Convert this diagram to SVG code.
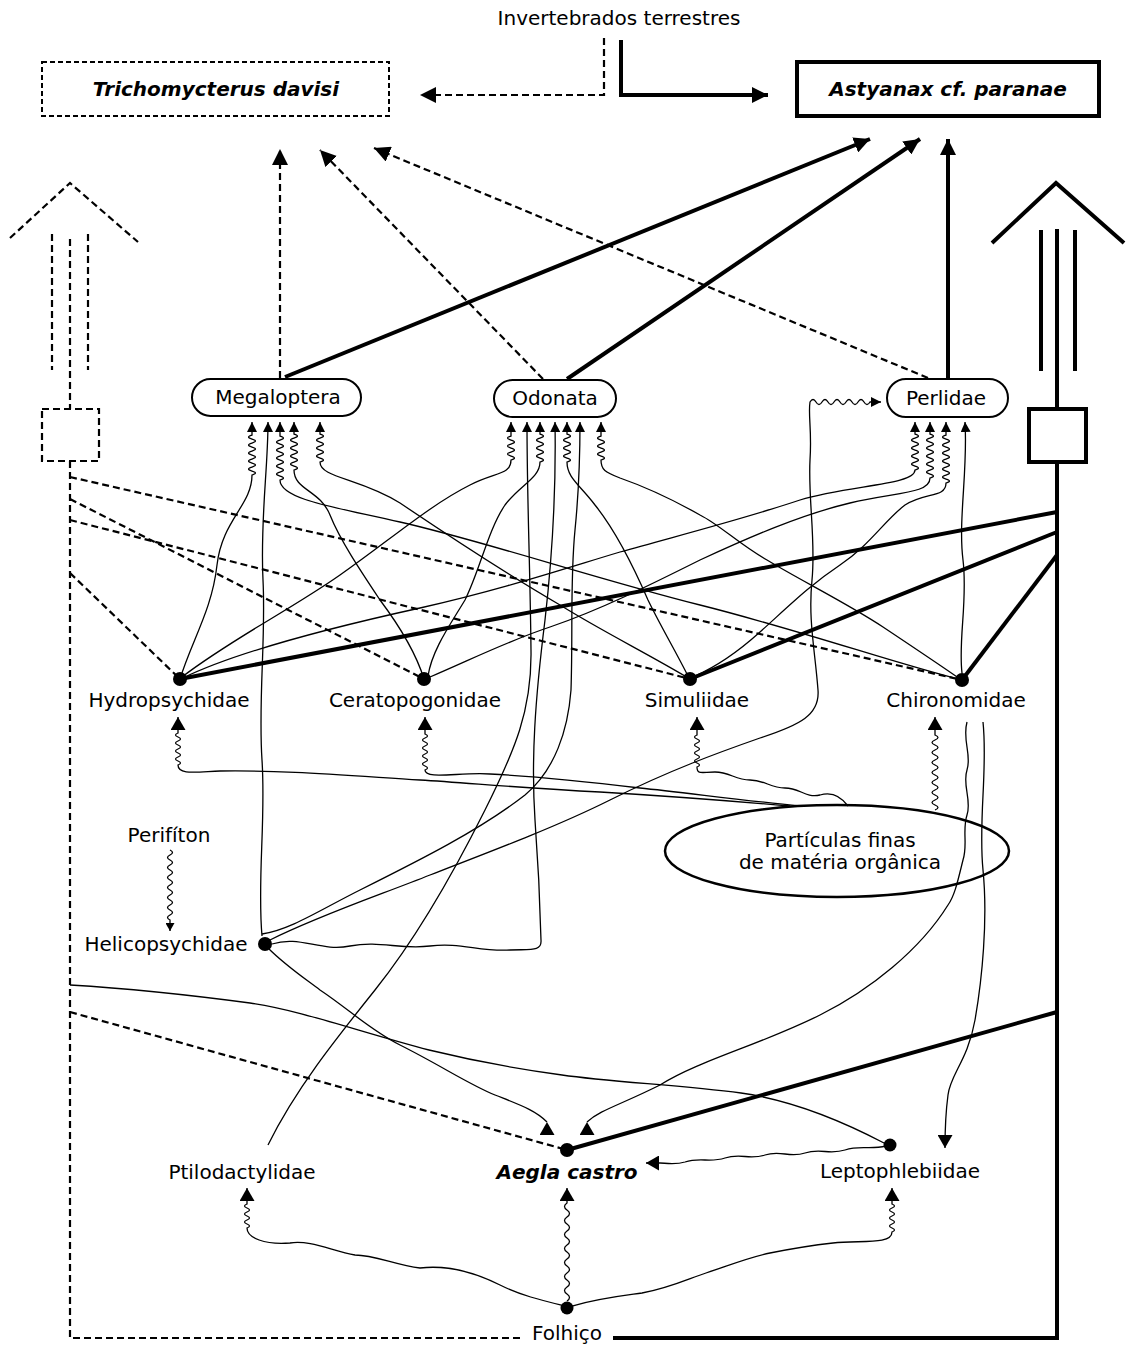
<svg xmlns="http://www.w3.org/2000/svg" width="1129" height="1347" viewBox="0 0 1129 1347">
<style>
.t{font-family:"DejaVu Sans",Verdana,sans-serif;font-size:20px;text-anchor:middle;fill:#000}
.bi{font-weight:bold;font-style:italic}
.thin{fill:none;stroke:#000;stroke-width:1.3}
.dash{fill:none;stroke:#000;stroke-width:2.2;stroke-dasharray:7 4}
.thick{fill:none;stroke:#000;stroke-width:4}
.box{fill:#fff;stroke:#000;stroke-width:2}
.dot{fill:#000}
</style>
<defs>
<marker id="a" markerUnits="userSpaceOnUse" markerWidth="10" markerHeight="10" refX="10" refY="5" orient="auto"><path d="M0,0L10,5L0,10z"/></marker>
<marker id="p" markerUnits="userSpaceOnUse" markerWidth="8" markerHeight="9" refX="8" refY="4.5" orient="auto"><path d="M0,0L8,4.5L0,9z"/></marker>
<marker id="b" markerUnits="userSpaceOnUse" markerWidth="13" markerHeight="15" refX="13" refY="7.5" orient="auto"><path d="M0,0L13,7.5L0,15z"/></marker>
<marker id="bu" markerUnits="userSpaceOnUse" markerWidth="13" markerHeight="15" refX="13" refY="7.5" orient="270"><path d="M0,0L13,7.5L0,15z"/></marker>
<marker id="c" markerUnits="userSpaceOnUse" markerWidth="16" markerHeight="16" refX="16" refY="8" orient="auto"><path d="M0,0L16,8L0,16z"/></marker>
</defs>
<rect width="1129" height="1347" fill="#fff"/>

<g id="left-column" class="dash">
<polyline points="10,238 70,183 138,242"/>
<line x1="52" y1="234" x2="52" y2="370"/>
<line x1="88" y1="234" x2="88" y2="370"/>
<line x1="70" y1="239" x2="70" y2="409"/>
<rect x="42" y="409" width="57" height="52"/>
</g>
<g id="right-column" class="thick">
<polyline points="992,243 1056,183 1124,243"/>
<line x1="1041" y1="230" x2="1041" y2="371"/>
<line x1="1075" y1="230" x2="1075" y2="371"/>
<line x1="1057" y1="229" x2="1057" y2="409"/>
<rect x="1029" y="409" width="57" height="53" fill="#fff"/>
</g>

<g id="connectors">
<path class="dash" d="M70,461V1338H520"/>
<path class="thick" d="M1057,462V1338H613"/>
<path class="dash" d="M604,38V95H420" marker-end="url(#c)"/>
<path class="thick" d="M621,40V95H768" marker-end="url(#c)"/>
<path class="dash" d="M280,378V149" marker-end="url(#c)"/>
<path class="dash" d="M543,379L320,150" marker-end="url(#c)"/>
<path class="dash" d="M928,378L374,148" marker-end="url(#c)"/>
<path class="thick" d="M285,377L870,139" marker-end="url(#c)"/>
<path class="thick" d="M567,379L920,139" marker-end="url(#c)"/>
<path class="thick" d="M948,378V139" marker-end="url(#c)"/>
<path class="dash" d="M70,477L962,680"/>
<path class="dash" d="M70,499L424,679"/>
<path class="dash" d="M70,520L690,679"/>
<path class="dash" d="M70,573L180,679"/>
<path class="dash" d="M70,1012L567,1150"/>
<path class="thick" d="M1057,512L180,679"/>
<path class="thick" d="M1057,532L690,679"/>
<path class="thick" d="M1057,555L962,680"/>
<path class="thick" d="M1057,1012L567,1150"/>

<path class="thin" marker-end="url(#a)" d="M180,679C192,640 212,610 217,565C222,520 252,505 252,475q7 -2 0 -4t0 -4t0 -4t0 -4t0 -4t0 -4t0 -4t0 -4t0 -4t0 -4V422"/>
<path class="thin" marker-end="url(#a)" d="M262,936C257,880 266,820 262,760C258,700 266,640 263,580C260,520 268,470 268,422"/>
<path class="thin" marker-end="url(#a)" d="M962,680C900,665 800,630 700,605C600,580 480,540 400,522C340,508 280,500 280,480q7 -2 0 -4t0 -4t0 -4t0 -4t0 -4t0 -4t0 -4t0 -4t0 -4t0 -4t0 -4V422"/>
<path class="thin" marker-end="url(#a)" d="M424,679C415,650 395,620 380,600C360,570 340,540 330,515C320,490 294,490 294,470q7 -2 0 -4t0 -4t0 -4t0 -4t0 -4t0 -4t0 -4t0 -4t0 -4V422"/>
<path class="thin" marker-end="url(#a)" d="M690,679C650,655 600,630 560,605C500,570 440,530 400,503C360,478 320,478 320,462q7 -2 0 -4t0 -4t0 -4t0 -4t0 -4t0 -4t0 -4V422"/>

<path class="thin" marker-end="url(#a)" d="M182,677C230,640 290,610 340,575C390,540 430,505 470,485C495,472 511,475 511,460q7 -2 0 -4t0 -4t0 -4t0 -4t0 -4t0 -4V422"/>
<path class="thin" marker-end="url(#a)" d="M268,1145C295,1090 335,1040 375,990C415,940 450,880 485,810C515,750 532,710 531,650C530,560 527,500 527,422"/>
<path class="thin" marker-end="url(#a)" d="M428,676C432,650 450,625 465,600C480,570 488,530 505,505C520,485 540,478 540,462q7 -2 0 -4t0 -4t0 -4t0 -4t0 -4t0 -4t0 -4V422"/>
<path class="thin" marker-end="url(#a)" d="M272,944C300,935 320,952 350,946C380,940 400,950 430,946C460,942 480,952 510,950C530,949 542,952 541,940C540,900 538,860 535,820C531,760 535,700 545,620C553,550 556,480 555,422"/>
<path class="thin" marker-end="url(#a)" d="M688,676C675,650 660,625 648,600C635,570 615,530 595,505C580,485 567,478 567,462q7 -2 0 -4t0 -4t0 -4t0 -4t0 -4t0 -4t0 -4V422"/>
<path class="thin" marker-end="url(#a)" d="M262,934C290,930 320,910 360,890C420,860 480,830 525,795C555,770 568,730 571,690C573,630 570,580 575,530C579,490 580,460 580,422"/>
<path class="thin" marker-end="url(#a)" d="M960,679C940,665 910,645 883,627C850,605 800,580 767,560C740,545 720,525 700,515C670,498 640,485 620,478C605,472 601,470 601,460q7 -2 0 -4t0 -4t0 -4t0 -4t0 -4t0 -4V422"/>

<path class="thin" marker-end="url(#a)" d="M183,678C230,655 320,630 420,608C500,590 560,570 620,552C680,535 740,520 800,500C850,485 915,485 915,470q7 -2 0 -4t0 -4t0 -4t0 -4t0 -4t0 -4t0 -4t0 -4t0 -4V422"/>
<path class="thin" marker-end="url(#a)" d="M430,677C470,660 510,640 550,627C600,610 650,585 700,560C750,537 800,515 850,503C895,492 930,494 930,478q7 -2 0 -4t0 -4t0 -4t0 -4t0 -4t0 -4t0 -4t0 -4t0 -4t0 -4t0 -4V422"/>
<path class="thin" marker-end="url(#a)" d="M695,676C720,665 740,650 760,632C790,605 810,585 840,565C870,545 885,520 905,505C925,492 946,498 946,483q7 -2 0 -4t0 -4t0 -4t0 -4t0 -4t0 -4t0 -4t0 -4t0 -4t0 -4t0 -4t0 -4V422"/>
<path class="thin" marker-end="url(#a)" d="M962,673C958,640 968,600 963,560C958,520 968,470 965,422"/>
<path class="thin" marker-end="url(#a)" d="M270,940C320,915 380,895 430,875C500,848 560,825 610,800C670,770 720,752 760,738C800,725 820,715 818,690C815,650 808,620 812,580C816,540 808,500 810,460C812,430 808,415 810,402q3 -5 6 0t6 0t6 0t6 0t6 0t6 0t6 0t6 0t6 0t6 0H881"/>

<path class="thin" marker-end="url(#b)" d="M790,806C720,800 650,795 600,792C520,788 470,783 420,780C340,775 280,770 220,771C195,772 178,775 178,765q5 -2 0 -4t0 -4t0 -4t0 -4t0 -4t0 -4t0 -4t0 -4V717"/>
<path class="thin" marker-end="url(#b)" d="M800,806C740,800 680,792 640,788C590,782 530,776 490,774C460,772 425,780 425,770q5 -2 0 -4t0 -4t0 -4t0 -4t0 -4t0 -4t0 -4t0 -4t0 -4V717"/>
<path class="thin" marker-end="url(#b)" d="M848,806C840,795 830,792 820,795C805,798 800,788 785,788C770,788 765,780 750,780C735,780 730,772 715,772C702,772 697,775 697,767q5 -2 0 -4t0 -4t0 -4t0 -4t0 -4t0 -4t0 -4t0 -4V717"/>
<path class="thin" marker-end="url(#b)" d="M935,810q6 -2.5 0 -5t0 -5t0 -5t0 -5t0 -5t0 -5t0 -5t0 -5t0 -5t0 -5t0 -5t0 -5t0 -5t0 -5t0 -5V717"/>

<path class="thin" marker-end="url(#bu)" d="M967,722C962,740 972,755 967,770C962,785 972,800 967,815C962,830 968,845 963,860C958,880 955,895 948,905C920,950 870,990 820,1015C760,1045 700,1060 660,1085C620,1105 600,1110 587,1122"/>
<path class="thin" marker-end="url(#b)" d="M983,722C988,770 978,820 983,870C988,920 982,980 975,1020C968,1060 950,1075 948,1095C946,1110 945,1125 945,1148"/>
<path class="thin" marker-end="url(#p)" d="M170,850q5 2.5 0 5t0 5t0 5t0 5t0 5t0 5t0 5t0 5t0 5t0 5t0 5t0 5t0 5t0 5V931"/>
<path class="thin" marker-end="url(#bu)" d="M268,948C285,965 300,975 320,990C350,1010 370,1030 400,1045C440,1065 470,1085 495,1095C520,1105 535,1110 547,1122"/>
<path class="thin" d="M884,1143C840,1120 790,1100 741,1093C680,1085 610,1082 562,1075C510,1068 470,1060 429,1050C360,1032 300,1010 250,1003C190,995 120,988 70,985"/>
<path class="thin" marker-end="url(#b)" d="M886,1146C870,1150 860,1145 845,1150C830,1155 820,1148 805,1153C790,1158 780,1150 765,1155C750,1160 740,1153 725,1158C710,1163 700,1157 685,1162C675,1165 665,1163 660,1163H646"/>
<path class="thin" marker-end="url(#b)" d="M565,1306C540,1300 520,1295 500,1285C470,1270 445,1265 420,1268C395,1265 375,1255 355,1255C330,1250 310,1240 290,1243C265,1245 247,1238 247,1228q5 -2 0 -4t0 -4t0 -4t0 -4t0 -4t0 -4V1188"/>
<path class="thin" marker-end="url(#b)" d="M567,1301q5 -3.5 0 -7t0 -7t0 -7t0 -7t0 -7t0 -7t0 -7t0 -7t0 -7t0 -7t0 -7t0 -7t0 -7t0 -7V1188"/>
<path class="thin" marker-end="url(#b)" d="M572,1306C600,1298 620,1296 642,1293C670,1288 690,1278 706,1273C730,1265 750,1257 770,1253C795,1248 815,1245 833,1243C860,1240 892,1245 892,1232q5 -2 0 -4t0 -4t0 -4t0 -4t0 -4t0 -4t0 -4V1188"/>
</g>

<g id="n-invertebrados"><text class="t" x="619" y="25">Invertebrados terrestres</text></g>
<g id="n-trichomycterus"><rect x="42" y="62" width="347" height="54" fill="#fff" stroke="#000" stroke-width="2" stroke-dasharray="5 3"/><text class="t bi" x="216" y="96">Trichomycterus davisi</text></g>
<g id="n-astyanax"><rect x="797" y="62" width="302" height="54" fill="#fff" stroke="#000" stroke-width="4"/><text class="t bi" x="948" y="96">Astyanax cf. paranae</text></g>
<g id="n-megaloptera"><rect class="box" x="192" y="379" width="169" height="37" rx="18.5"/><text class="t" x="278" y="404">Megaloptera</text></g>
<g id="n-odonata"><rect class="box" x="494" y="380" width="122" height="37" rx="18.5"/><text class="t" x="555" y="405">Odonata</text></g>
<g id="n-perlidae"><rect class="box" x="887" y="379" width="121" height="38" rx="19"/><text class="t" x="946" y="405">Perlidae</text></g>
<g id="n-hydropsychidae"><circle class="dot" cx="180" cy="679" r="7"/><text class="t" x="169" y="707">Hydropsychidae</text></g>
<g id="n-ceratopogonidae"><circle class="dot" cx="424" cy="679" r="7"/><text class="t" x="415" y="707">Ceratopogonidae</text></g>
<g id="n-simuliidae"><circle class="dot" cx="690" cy="679" r="7"/><text class="t" x="697" y="707">Simuliidae</text></g>
<g id="n-chironomidae"><circle class="dot" cx="962" cy="680" r="7"/><text class="t" x="956" y="707">Chironomidae</text></g>
<g id="n-particulas"><ellipse cx="837" cy="851" rx="172" ry="46" fill="none" stroke="#000" stroke-width="2.5"/><text class="t" x="840" y="847">Partículas finas</text><text class="t" x="840" y="869">de matéria orgânica</text></g>
<g id="n-perifiton"><text class="t" x="169" y="842">Perifíton</text></g>
<g id="n-helicopsychidae"><circle class="dot" cx="265" cy="944" r="7"/><text class="t" x="166" y="951">Helicopsychidae</text></g>
<g id="n-ptilodactylidae"><text class="t" x="242" y="1179">Ptilodactylidae</text></g>
<g id="n-aegla"><circle class="dot" cx="567" cy="1150" r="7"/><text class="t bi" x="567" y="1179">Aegla castro</text></g>
<g id="n-leptophlebiidae"><circle class="dot" cx="890" cy="1145" r="6.5"/><text class="t" x="900" y="1178">Leptophlebiidae</text></g>
<g id="n-folhico"><circle class="dot" cx="567" cy="1308" r="6.5"/><text class="t" x="567" y="1340">Folhiço</text></g>
</svg>
